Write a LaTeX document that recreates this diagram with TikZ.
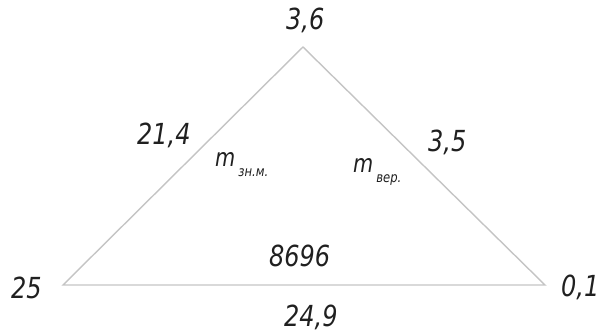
\documentclass[tikz,border=0pt]{standalone}
\usepackage{fontspec}
\setmainfont{DejaVu Sans Condensed}[ItalicFont={DejaVu Sans Condensed Oblique},FakeStretch=0.92]
\usetikzlibrary{positioning}
\definecolor{lgray}{HTML}{C4C4C4}
\definecolor{ink}{HTML}{202020}
\newcommand{\msub}[1]{\textit{m}\hspace{3pt}\raisebox{-10pt}{\fontsize{14}{14}\selectfont #1}}
\begin{document}
\begin{tikzpicture}[x=1pt,y=1pt,
    every node/.style={inner sep=0pt,text=ink,anchor=base west},
    num/.style={font=\fontsize{29}{29}\selectfont\itshape},
    mlbl/.style={font=\fontsize{25}{25}\selectfont\itshape},
    side/.style={draw=lgray,line width=1.4pt}
  ]
  \useasboundingbox (0,0) rectangle (598,335);
  % vertices
  \coordinate (t) at (303,288);
  \coordinate (l) at (63,50);
  \coordinate (r) at (545,50);
  \draw[side] (l) -- (t) -- (r) -- cycle;
  % labels
  \node[num] (nt) at (286,305) {3,6};
  \node[num] (nl) at (11,36) {25};
  \node[num] (nr) at (561,38) {0,1};
  \node[num] (nb) at (284,8) {24,9};
  \node[num] (nc) at (269,68) {8696};
  \node[num] (sl) at (137,190) {21,4};
  \node[num] (sr) at (428,183) {3,5};
  \node[mlbl] (mz) at (215,168) {\msub{зн.м.}};
  \node[mlbl] (mv) at (353,162) {\msub{вер.}};
\end{tikzpicture}
\end{document}
